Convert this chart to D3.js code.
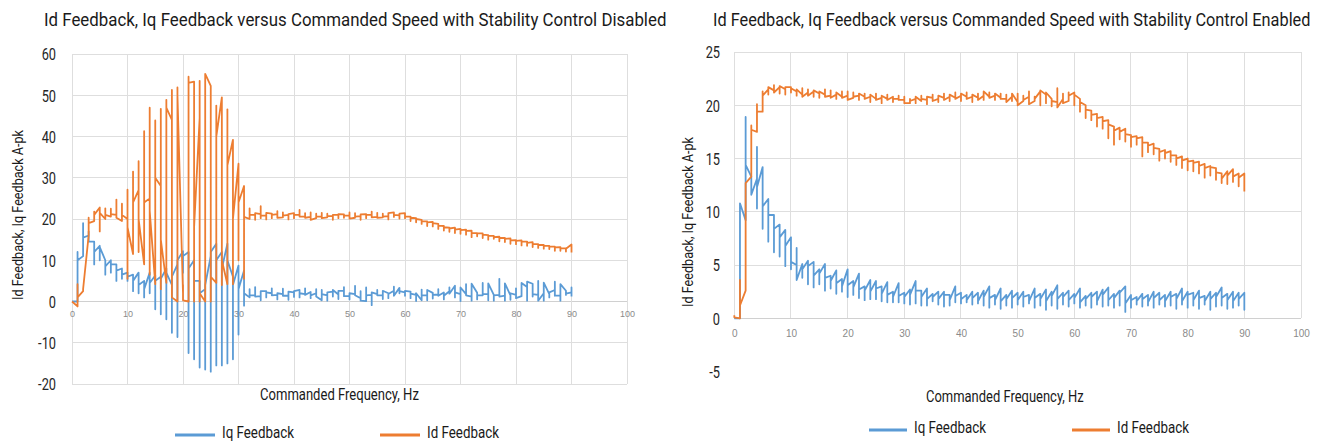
<!DOCTYPE html>
<html>
<head>
<meta charset="utf-8">
<script src="https://cdn.jsdelivr.net/npm/d3@7"></script>
<style>
  html, body { margin: 0; padding: 0; background: #fff; }
  svg { display: block; }
</style>
</head>
<body>
<svg id="chart" width="1322" height="443"></svg>
<script>
// Commanded frequency steps (Hz); each step holds the feedback samples logged at that frequency.
const freqHz = d3.range(0, 91);

const xTickValues = [0, 10, 20, 30, 40, 50, 60, 70, 80, 90, 100];
const yTicksDisabled = [-20, -10, 0, 10, 20, 30, 40, 50, 60];
const yTicksEnabled = [-5, 0, 5, 10, 15, 20, 25];

const titleDisabled = "Id Feedback, Iq Feedback versus Commanded Speed with Stability Control Disabled";
const titleEnabled = "Id Feedback, Iq Feedback versus Commanded Speed with Stability Control Enabled";
const xTitle = "Commanded Frequency, Hz";
const yTitle = "Id Feedback, Iq Feedback A-pk";
const seriesNames = ["Iq Feedback", "Id Feedback"];

// Stability control disabled — Iq feedback samples per frequency step (A-pk)
const iqDisabled = [
  [0, 0], [0, 12, 10], [11, 19, 15.5], [16, 17, 14.5], [14.5, 9, 12], [13.5, 10, 13.2],
  [10, 6.5, 8.5], [10, 7, 9], [9, 5, 7.5], [8, 5.5, 6.5], [7, 5, 6], [6.5, 2.5, 5],
  [7, 2, 4], [5, 1, 3], [7, 2, 4.5], [6.3, -1.9, 5], [6, -3.1, 5.5], [8, -4.3, 7],
  [4, -7.6, 6], [9, -8.6, 10], [12.2, 7, 11], [12, -12.5, 8], [10, -14, 5], [5, -16, 2],
  [3, -16.5, 4], [11, -17, 12], [14, -15.5, 10], [12, -15.5, 8], [14, -15, 10], [6, -14, 4],
  [8.7, -8, 3], [7.5, -1, 2], [1, 3, 1.5], [1.5, 3.5, 1.2], [1.3, 0.3, 2.5], [2.5, 1, 2.2],
  [2, 3.2, 1.5], [1.6, 0.5, 2], [1.8, 3.1, 1.4], [1.4, 0.4, 2.4], [2.2, 1.1, 2.5], [2.8, 1, 2],
  [1.8, 3.2, 1.6], [2.3, 0.8, 1.5], [2, 3, 1.2], [0.3, 2.8, 1.8], [1.5, 0.2, 2.2], [2.4, 1.2, 2.8],
  [1.7, 0.6, 2.6], [2.6, 3.5, 1.3], [1.3, 0.5, 2], [1.8, 3.8, 1.5], [0.8, 2.5, 0.2], [0.1, 3.4, 1.5],
  [1.6, -0.9, 2.2], [1.8, 2.8, 1.5], [1.5, 0.6, 2.6], [2, 0.8, 1.8], [2.6, 3.6, 1.4], [3.3, 2, 2.5],
  [2.2, 1.4, 2.6], [2.4, 0.8, 1.9], [1.6, 0.1, 2], [0.3, 2.9, 1.5], [1.5, 0.3, 2.8], [2.1, 0.7, 1.6],
  [1.7, 3, 1.4], [2.2, 0.5, 1.4], [2.5, 3.4, 1.9], [3.8, 1, 2.2], [1.8, 0.1, 3.4], [1.8, 4.2, 1.5],
  [1.2, 0.2, 4.3], [2.1, 0.5, 1.5], [1.5, 4.5, 1.8], [1.8, 0.3, 4.4], [1.6, 0.2, 1.5], [1.6, 5.5, 1.2],
  [1.4, 0.2, 4.4], [1.5, 0.4, 2], [1.6, 3.2, 0.8], [1.3, 2.7, 4.5], [3.5, 0.2, 4.8], [4.3, 1.2, 1.8],
  [1.6, 5, 0.2], [2, 0.2, 4.6], [1.8, 1, 2.2], [2.8, 4.8, 1.4], [1.5, 0.2, 4.2], [2.6, 1.6, 1.9],
  [2.2, 3.4, 1.2]
];

// Stability control disabled — Id feedback samples per frequency step (A-pk)
const idDisabled = [
  [0, 0], [-1.2, 4.2, 1], [2.5, 3], [16, 20.3, 19], [19.5, 21.8, 21], [22.8, 17, 21.5],
  [20, 22.6, 21], [20.6, 22.5, 21.2], [21, 24.7, 20.3], [19.5, 23.7, 21], [20, 27.1, 5.5, 18], [11.5, 31.5, 24],
  [27, 34, 12, 20], [9, 41.3, 24], [25, 47, 6.5, 22], [4.2, 43.9, 30], [28, 46.7, 3, 15], [4.5, 48.9, 47],
  [44, 51.3, 1], [0, 51.9, 50], [2, 4, 0.3], [0, 54.5, 53], [53.3, 0, 18], [44.5, 53.5, 0, 2],
  [0, 55.2], [52.3, 0, 6], [4.5, 47.5, 40], [49.5, 4, 10], [4.2, 46.6, 33], [39.2, 4.2, 20],
  [33.4, 10, 24], [28, 5.5, 20.5], [20, 22.6, 21], [21, 19.8, 21.4], [21.2, 23.1, 20.2, 20.8], [20.8, 19.9, 21.5],
  [21.3, 20.2, 21], [21.2, 21.9, 20.3], [20.4, 21.6, 20.8], [21, 19.9, 21.2], [21.4, 20.2, 21], [21, 22.2, 20.6],
  [20.6, 21.4, 20.3], [20.5, 21.6, 19.8], [20.2, 21.3, 20.6], [20.6, 21.5, 20.2], [20.4, 21.3, 20.7], [20.7, 19.8, 21],
  [21, 20.2, 21.2], [21.1, 20.3, 20.8], [20.9, 21.6, 20.1], [20.3, 21.4, 20.6], [20.7, 19.8, 21.1], [21.2, 20.2, 21],
  [21, 21.8, 20.4], [20.5, 21.5, 20.3], [20.4, 21.3, 20.6], [20.7, 19.9, 21.4], [21.6, 20.5, 21], [20.9, 20.1, 21.3],
  [21.4, 20.2, 20.6], [20.6, 19.5, 20.3], [20.2, 19.2, 20], [19.8, 18.8, 19.5], [19.4, 18.3, 19.2], [19.3, 18.2, 19],
  [18.8, 17.6, 18.4], [18.3, 17.2, 18], [17.9, 16.9, 17.7], [17.9, 16.6, 17.4], [17.6, 16.4, 17.3], [17.4, 16.2, 17.1],
  [17.2, 15.6, 16.6], [16.6, 15.8, 16.5], [16.5, 15.4, 16.2], [16.1, 15, 15.9], [15.9, 15.2, 15.6], [15.7, 14.6, 15.4],
  [15.4, 14.4, 15.2], [15.3, 14, 14.8], [14.9, 13.9, 14.7], [14.8, 13.6, 14.5], [14.5, 13.5, 14.2], [14.4, 13.2, 13.9],
  [13.9, 13, 13.7], [13.7, 12.8, 13.5], [13.5, 12.7, 13.3], [13.3, 12.3, 13.1], [13.2, 12.3, 12.9], [12.9, 12.1, 12.8],
  [13.8, 11.9]
];

// Stability control enabled — Iq feedback samples per frequency step (A-pk)
const iqEnabled = [
  [0, 0], [0, 10.8], [9.2, 18.9, 14.4], [13.3, 11.6], [13.1, 10.3, 16.1, 12.3], [14.2, 8.4, 10.5],
  [11.2, 7.2, 9.7], [9.7, 6.2, 8.4], [8.8, 5.8, 7.6], [8.3, 4.9, 6.8], [7.6, 4.6, 5.3], [5, 6.6, 3.6],
  [5.1, 3.8, 4.6], [5.4, 3.2, 4.9], [5.3, 2.9, 4], [4.6, 3.2, 4.2], [5.1, 2.6, 3.8], [4, 2.8, 3.5],
  [4.5, 2.3, 3.3], [3.7, 2.5, 3], [4.6, 2, 3.1], [3.5, 2.2, 2.9], [4.2, 1.9, 2.7], [3, 1.7, 2.6],
  [3.6, 1.8, 2.5], [3.5, 1.8, 2.8], [3, 1.6, 2.3], [3.4, 1.5, 2.2], [2.5, 1.5, 2], [3.3, 1.5, 2.1],
  [2.4, 1.4, 2], [2.7, 1.3, 2.2], [3.5, 1.4, 2.6], [2.6, 1.2, 2], [2.8, 1.2, 1.8], [2.3, 1.6, 2],
  [2.5, 1.3, 1.8], [2.5, 1.1, 2.2], [2.2, 1.2, 1.7], [3, 1.5, 2.1], [2.4, 1.4, 1.8], [2.2, 1.5, 1.7],
  [2.5, 1.3, 1.9], [2.4, 1.4, 1.6], [2.6, 1.2, 2], [3, 1, 1.9], [2.2, 1.3, 1.7], [2.8, 0.9, 1.6],
  [2.2, 1.2, 1.8], [2.6, 1, 1.9], [2.4, 1.3, 1.7], [2.5, 1.1, 2], [2.2, 1.4, 1.6], [2.8, 1, 1.9],
  [2.3, 1.2, 1.8], [2.7, 0.8, 1.6], [2.5, 1.2, 2.1], [3.1, 0.9, 1.8], [2.4, 1.3, 2], [2.6, 1.1, 1.7],
  [2.3, 1.4, 1.9], [2.8, 1, 1.5], [2.1, 1.2, 1.8], [2.4, 1, 2], [2.5, 1.3, 1.6], [2.7, 1.1, 2.2],
  [2.9, 1.2, 1.7], [2.3, 1, 1.9], [2.6, 1.2, 2.4], [3, 0.6, 1.4], [2.2, 1, 1.7], [2, 1.3, 1.6],
  [2.3, 1.1, 1.8], [2.2, 1.2, 1.5], [2.5, 1, 1.9], [2.4, 1.3, 1.7], [2.2, 1.1, 1.6], [2.5, 1.2, 2],
  [2.3, 0.9, 1.8], [2.8, 1.3, 1.6], [2.5, 1, 2.2], [2.4, 1.2, 1.7], [2.6, 0.9, 1.9], [2.1, 1.3, 1.6],
  [2.5, 0.8, 1.8], [2.4, 1.1, 2], [2.9, 1.2, 1.9], [2.3, 0.9, 1.7], [2.5, 1, 1.6], [2.4, 1.2, 1.8],
  [2.4, 0.8, 1.4]
];

// Stability control enabled — Id feedback samples per frequency step (A-pk)
const idEnabled = [
  [0.3, 0.1], [0, 3.6, 1.2], [2.6, 12.7], [13.3, 18.1, 17.7], [17.5, 20.1, 19.4], [19.4, 21.3, 20.9],
  [21.5, 21, 21.7], [21.4, 21.9, 21.2], [21.7, 21.1, 21.8], [21.5, 21, 21.7], [21.7, 21.2, 21.6], [21.3, 20.9, 21.5],
  [21, 21.6, 20.8], [21.2, 21.5, 20.9], [21.3, 20.8, 21.4], [21.1, 20.7, 21.3], [21, 21.5, 20.8], [20.9, 21.4, 20.7],
  [21, 20.6, 21.2], [20.8, 21.3, 20.7], [20.9, 21.3, 20.5], [20.7, 21.2, 20.8], [20.9, 20.5, 21.1], [20.8, 21.1, 20.6],
  [20.8, 20.3, 21], [20.6, 21.1, 20.5], [20.7, 20.2, 20.9], [20.6, 21, 20.5], [20.8, 20.3, 20.6], [20.6, 20.9, 20.5],
  [20.5, 20.8, 20.2], [20.2, 20.6, 20.4], [20.6, 20.2, 20.8], [20.4, 20.9, 20.6], [20.5, 20.1, 20.8], [20.7, 21, 20.4],
  [20.6, 20.3, 20.9], [20.7, 21.1, 20.5], [20.8, 20.4, 21], [20.7, 21.2, 20.6], [20.9, 20.4, 21.1], [20.8, 21.2, 20.6],
  [20.8, 20.3, 21], [20.7, 21.1, 20.5], [20.9, 20.5, 21.3], [20.8, 21.2, 20.7], [20.9, 20.5, 21.1], [20.7, 21.1, 20.6],
  [20.6, 21, 20.3], [20.8, 20.4, 21.1], [20.3, 21.1, 20], [20.4, 20.9, 20.5], [20.8, 21.3, 20.1], [20.4, 20.8, 20.6],
  [21.3, 20, 21.4], [21, 20.2, 21.2], [20.6, 19.9, 20.4], [20.3, 21.6, 19.8], [20.6, 21.1, 20.2], [20.4, 21.2, 20.9],
  [21.2, 20, 21], [20.6, 19.4, 20.3], [20, 18.8, 19.6], [19.5, 18.6, 19.1], [19.2, 18, 18.8], [18.9, 17.8, 18.5],
  [18.6, 16.9, 18.2], [18, 16.3, 17.6], [17.9, 16.8, 17.5], [17.8, 16.6, 17.3], [17.2, 16.1, 17], [17.1, 16.3, 16.9],
  [17, 15.2, 16.5], [16.5, 15.6, 16.2], [16.4, 15.4, 16], [15.9, 14.8, 15.6], [15.8, 15, 15.5], [15.7, 14.7, 15.3],
  [15.3, 14.4, 15], [15.2, 14.1, 14.8], [15, 13.9, 14.7], [14.8, 13.8, 14.6], [14.7, 13.6, 14.3], [14.5, 13.2, 14.1],
  [14.3, 13.4, 14.2], [14.1, 13, 13.7], [13.6, 12.7, 13.1], [13.8, 12.6, 13.4], [14, 12.8, 13.3], [13.6, 12.4, 13.2],
  [13.6, 11.9]
];

const colors = { iq: "#5B9BD5", id: "#ED7D31" };
const labelFont = "Roboto, 'Liberation Sans', sans-serif";
const svg = d3.select("#chart");

// Flatten the per-step samples into [frequency, value] points in logging order.
function toPoints(samples) {
  return freqHz.flatMap((f, i) => samples[i].map(v => [f, v]));
}

// Draw a label in a horizontally condensed style, squeezed to a given width.
function condensedText(parent, str, x, y, size, width, opts = {}) {
  const t = parent.append("text")
    .attr("font-family", labelFont)
    .attr("font-size", size)
    .attr("fill", "#1a1a1a")
    .attr("dy", "0.35em")
    .attr("text-anchor", opts.anchor || "start")
    .text(str);
  const len = t.node().getComputedTextLength() || width;
  const sx = width / len;
  const rot = opts.rotate ? ` rotate(${opts.rotate})` : "";
  t.attr("transform", `translate(${x},${y})${rot} scale(${sx},1)`);
  return t;
}

function drawPanel(p) {
  const g = svg.append("g");
  const x = d3.scaleLinear().domain([0, 100]).range([p.left, p.right]);
  const y = d3.scaleLinear().domain(p.yDomain).range([p.bottom, p.top]);
  const gridBottom = y(p.gridMin);

  // horizontal grid
  g.append("g").selectAll("line")
    .data(p.yTicks.filter(v => v >= p.gridMin))
    .join("line")
    .attr("x1", x(0)).attr("x2", x(100))
    .attr("y1", d => y(d)).attr("y2", d => y(d))
    .attr("stroke", d => d === 0 ? "#d0d0d0" : "#dedede")
    .attr("stroke-width", 1)
    .attr("shape-rendering", "crispEdges");

  // vertical grid
  g.append("g").selectAll("line")
    .data(xTickValues)
    .join("line")
    .attr("x1", d => x(d)).attr("x2", d => x(d))
    .attr("y1", y(p.yDomain[1])).attr("y2", gridBottom)
    .attr("stroke", "#dedede")
    .attr("stroke-width", 1)
    .attr("shape-rendering", "crispEdges");

  // y tick labels
  const yAxis = d3.axisLeft(y).tickValues(p.yTicks).tickSize(0).tickPadding(0).tickFormat(d => String(d));
  const ya = g.append("g").attr("transform", `translate(${p.yLabelRight},0)`).call(yAxis);
  ya.select(".domain").remove();
  ya.selectAll("text")
    .attr("font-family", labelFont)
    .attr("font-size", 16)
    .attr("fill", "#262626")
    .attr("dy", "0.36em")
    .attr("transform", "scale(0.8,1)");

  // x tick labels sit just below the zero line
  const xAxis = d3.axisBottom(x).tickValues(xTickValues).tickSize(0).tickPadding(0);
  const xa = g.append("g").attr("transform", `translate(0,${y(0) + p.xLabelOffset})`).call(xAxis);
  xa.select(".domain").remove();
  xa.selectAll("text")
    .attr("font-family", "'Liberation Sans', Arial, sans-serif")
    .attr("font-size", p.xLabelSize)
    .attr("fill", "#8a8a8a")
    .attr("dy", "0.35em");

  // series
  const line = d3.line().x(d => x(d[0])).y(d => y(d[1]));
  [[p.iq, colors.iq], [p.id, colors.id]].forEach(([samples, c]) => {
    g.append("path")
      .datum(toPoints(samples))
      .attr("fill", "none")
      .attr("stroke", c)
      .attr("stroke-width", 1.8)
      .attr("stroke-linejoin", "round")
      .attr("d", line);
  });

  // chart title
  condensedText(g, p.title, p.titleX, 20, 17.5, p.titleWidth);

  // axis titles
  condensedText(g, xTitle, p.xTitleX, p.xTitleY, 16, p.xTitleWidth);
  condensedText(g, yTitle, p.yTitleX, p.yTitleY, 14.5, p.yTitleWidth, { anchor: "middle", rotate: -90 });

  // legend
  const items = [
    { name: seriesNames[0], color: colors.iq, x: p.legendX[0] },
    { name: seriesNames[1], color: colors.id, x: p.legendX[1] }
  ];
  const lg = g.append("g");
  items.forEach(it => {
    lg.append("line")
      .attr("x1", it.x).attr("x2", it.x + p.legendLine)
      .attr("y1", p.legendY + 3).attr("y2", p.legendY + 3)
      .attr("stroke", it.color).attr("stroke-width", 3);
    condensedText(lg, it.name, it.x + p.legendLine + 7, p.legendY, 16, 72);
  });
}

drawPanel({
  title: titleDisabled, titleX: 44, titleWidth: 623,
  left: 72, right: 627, top: 54, bottom: 384,
  yDomain: [-20, 60], yTicks: yTicksDisabled, gridMin: -20,
  yLabelRight: 56, xLabelOffset: 12.5, xLabelSize: 9,
  iq: iqDisabled, id: idDisabled,
  xTitleX: 260, xTitleY: 394, xTitleWidth: 159,
  yTitleX: 17.5, yTitleY: 215, yTitleWidth: 170,
  legendX: [175, 380], legendLine: 40, legendY: 432
});

drawPanel({
  title: titleEnabled, titleX: 713, titleWidth: 598,
  left: 734.3, right: 1301, top: 52, bottom: 371.6,
  yDomain: [-5, 25], yTicks: yTicksEnabled, gridMin: 0,
  yLabelRight: 720, xLabelOffset: 15, xLabelSize: 10,
  iq: iqEnabled, id: idEnabled,
  xTitleX: 926, xTitleY: 396, xTitleWidth: 158,
  yTitleX: 688, yTitleY: 222, yTitleWidth: 170,
  legendX: [869, 1072], legendLine: 38, legendY: 427
});
</script>
</body>
</html>
